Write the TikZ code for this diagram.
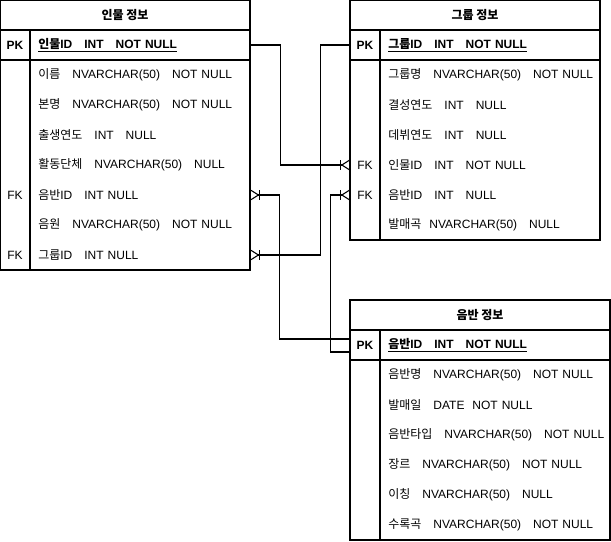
\documentclass[tikz,border=0pt]{standalone}
\usepackage{fontspec}
\setmainfont{Liberation Sans}
\newfontfamily\krfont{Noto Sans CJK KR}
\usetikzlibrary{arrows.meta}

\newcommand{\kr}[1]{{\krfont #1}}
\newcommand{\sep}{\nobreak\hspace{9pt}\nobreak}

\tikzset{
    frame/.style={line width=0.8pt},
    title/.style={font=\fontsize{9}{11}\selectfont\bfseries},
    key/.style={minimum width=22.5pt, minimum height=22.5pt, inner sep=0pt, font=\fontsize{9}{11}\selectfont},
    pkkey/.style={key, font=\fontsize{9}{11}\selectfont\bfseries},
    field/.style={anchor=west, text width=153pt, align=left, minimum height=22.5pt, inner xsep=6pt, inner ysep=0pt, font=\fontsize{9}{11}\selectfont},
    pkfield/.style={field, font=\fontsize{9}{11}\selectfont\bfseries},
    wide/.style={text width=160.5pt},
    link/.style={line width=0.8pt, -{Bar[width=7pt] Straight Barb[reversed, length=5.5pt, width=7pt]}},
}

\begin{document}
\begin{tikzpicture}[x=0.75pt, y=-0.75pt]
    \useasboundingbox (0,0) rectangle (611,542);
    % 인물 정보
    \draw[frame] (0,0) rectangle (250,270);
    \draw[frame] (0,30) -- (250,30);
    \draw[frame] (0,60) -- (250,60);
    \draw[frame] (30,30) -- (30,270);
    \node[title] (person) at (125,15) {\kr{인물 정보}};
    \node[pkkey] (person-pk-k) at (15,45) {PK};
    \node[pkfield] (person-pk) at (30,45) {\underline{\kr{인물}ID\sep INT\sep NOT~NULL}};
    \node[field] (person-name) at (30,75) {\kr{이름}\sep NVARCHAR(50)\sep NOT~NULL};
    \node[field] (person-real) at (30,105) {\kr{본명}\sep NVARCHAR(50)\sep NOT~NULL};
    \node[field] (person-born) at (30,135) {\kr{출생연도}\sep INT\sep NULL};
    \node[field] (person-unit) at (30,165) {\kr{활동단체}\sep NVARCHAR(50)\sep NULL};
    \node[key] (person-album-k) at (15,195) {FK};
    \node[field] (person-album) at (30,195) {\kr{음반}ID\sep INT~NULL};
    \node[field] (person-song) at (30,225) {\kr{음원}\sep NVARCHAR(50)\sep NOT~NULL};
    \node[key] (person-group-k) at (15,255) {FK};
    \node[field] (person-group) at (30,255) {\kr{그룹}ID\sep INT~NULL};
    % 그룹 정보
    \draw[frame] (350,0) rectangle (600,240);
    \draw[frame] (350,30) -- (600,30);
    \draw[frame] (350,60) -- (600,60);
    \draw[frame] (380,30) -- (380,240);
    \node[title] (group) at (475,15) {\kr{그룹 정보}};
    \node[pkkey] (group-pk-k) at (365,45) {PK};
    \node[pkfield] (group-pk) at (380,45) {\underline{\kr{그룹}ID\sep INT\sep NOT~NULL}};
    \node[field] (group-name) at (380,75) {\kr{그룹명}\sep NVARCHAR(50)\sep NOT~NULL};
    \node[field] (group-formed) at (380,105) {\kr{결성연도}\sep INT\sep NULL};
    \node[field] (group-debut) at (380,135) {\kr{데뷔연도}\sep INT\sep NULL};
    \node[key] (group-person-k) at (365,165) {FK};
    \node[field] (group-person) at (380,165) {\kr{인물}ID\sep INT\sep NOT~NULL};
    \node[key] (group-album-k) at (365,195) {FK};
    \node[field] (group-album) at (380,195) {\kr{음반}ID\sep INT\sep NULL};
    \node[field] (group-hit) at (380,225) {\kr{발매곡}~~NVARCHAR(50)\sep NULL};
    % 음반 정보
    \draw[frame] (350,300) rectangle (610,540);
    \draw[frame] (350,330) -- (610,330);
    \draw[frame] (350,360) -- (610,360);
    \draw[frame] (380,330) -- (380,540);
    \node[title] (album) at (480,315) {\kr{음반 정보}};
    \node[pkkey] (album-pk-k) at (365,345) {PK};
    \node[pkfield, wide] (album-pk) at (380,345) {\underline{\kr{음반}ID\sep INT\sep NOT~NULL}};
    \node[field, wide] (album-name) at (380,375) {\kr{음반명}\sep NVARCHAR(50)\sep NOT~NULL};
    \node[field, wide] (album-date) at (380,405) {\kr{발매일}\sep DATE~~NOT~NULL};
    \node[field, wide] (album-type) at (380,435) {\kr{음반타입}\sep NVARCHAR(50)\sep NOT~NULL};
    \node[field, wide] (album-genre) at (380,465) {\kr{장르}\sep NVARCHAR(50)\sep NOT~NULL};
    \node[field, wide] (album-alias) at (380,495) {\kr{이칭}\sep NVARCHAR(50)\sep NULL};
    \node[field, wide] (album-tracks) at (380,525) {\kr{수록곡}\sep NVARCHAR(50)\sep NOT~NULL};
    % 관계
    \draw[link] (person-pk.east) -- ++(30,0) |- (group-person-k.west);
    \draw[link] (group-pk-k.west) -- ++(-29,0) |- (person-group.east);
    \draw[link] ([yshift=4.5pt]album-pk-k.west) -- ++(-70,0) |- (person-album.east);
    \draw[link] ([yshift=-5.25pt]album-pk-k.west) -- ++(-19,0) |- (group-album-k.west);
\end{tikzpicture}
\end{document}
